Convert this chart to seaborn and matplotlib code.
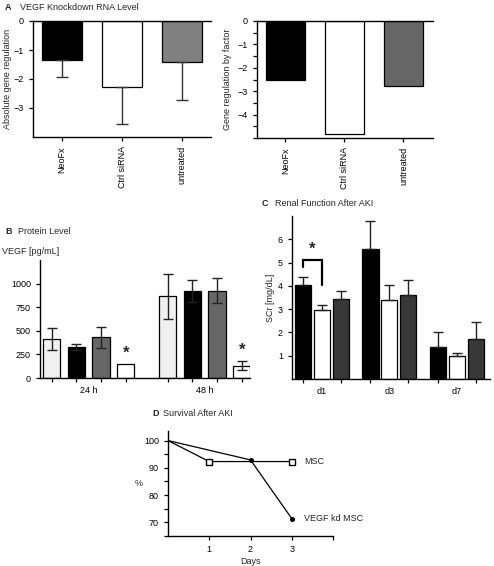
import numpy as np
import pandas as pd
import seaborn as sns
import matplotlib
matplotlib.use("Agg")
import matplotlib.pyplot as plt

# --- data ---
rna_groups = ['NeoFx', 'Ctrl siRNA', 'untreated']
rna_abs = [-1.35, -2.27, -1.42]
rna_abs_err = [0.57, 1.28, 1.31]
rna_factor = [-2.52, -4.82, -2.76]

protein_times = ['24 h', '48 h']
protein_series = ['MSC', 'NeoFx', 'Ctrl siRNA', 'VEGF kd MSC']
protein_24h = [415, 330, 430, 150]
protein_24h_err = [115, 30, 110, 0]
protein_48h = [865, 920, 925, 130]
protein_48h_err = [240, 115, 130, 50]

scr_days = ['d1', 'd3', 'd7']
scr_series = ['VEGF kd MSC', 'MSC', 'vehicle']
scr_vkd = [4.05, 5.60, 1.38]
scr_vkd_err = [0.35, 1.20, 0.64]
scr_msc = [2.97, 3.38, 1.00]
scr_msc_err = [0.21, 0.64, 0.10]
scr_veh = [3.45, 3.62, 1.72]
scr_veh_err = [0.32, 0.65, 0.73]

msc_days = [0, 1, 2, 3]
msc_surv = [100, 92.3, 92.3, 92.3]
vkd_days = [0, 2, 3]
vkd_surv = [100, 92.9, 71.4]

sns.set_theme(style="ticks")
plt.rcParams['font.family'] = ['Liberation Sans', 'DejaVu Sans']
plt.rcParams['axes.linewidth'] = 1.0
plt.rcParams['xtick.major.width'] = 0.9
plt.rcParams['ytick.major.width'] = 0.9
plt.rcParams['xtick.minor.width'] = 0.9
plt.rcParams['xtick.major.size'] = 3
plt.rcParams['ytick.major.size'] = 3
plt.rcParams['xtick.minor.size'] = 3
plt.rcParams['xtick.labelsize'] = 6.5
plt.rcParams['ytick.labelsize'] = 6.5
plt.rcParams['axes.edgecolor'] = 'black'
plt.rcParams['xtick.color'] = 'black'
plt.rcParams['ytick.color'] = 'black'

FS = 6.5
H = 566.0
W = 494.0


def box(x0, y0, x1, y1):
    return [x0 / W, 1 - y1 / H, (x1 - x0) / W, (y1 - y0) / H]


def centers(ax):
    return sorted(p.get_x() + p.get_width() / 2 for p in ax.patches)


fig = plt.figure(figsize=(4.94, 5.66), dpi=100)

# ---------- A left ----------
axA1 = fig.add_axes(box(33, 21, 211, 137))
dfA = pd.DataFrame({'group': rna_groups, 'val': rna_abs})
sns.barplot(data=dfA, x='group', y='val', hue='group', palette=['black', 'white', '#808080'],
            edgecolor='black', linewidth=0.9, width=0.67, errorbar=None, legend=False, ax=axA1)
xc = centers(axA1)
axA1.errorbar(xc, rna_abs, yerr=[rna_abs_err, [0, 0, 0]], fmt='none', ecolor='#333333',
              elinewidth=1.0, capsize=4, capthick=1.0)
axA1.set_ylim(-4, 0)
axA1.set_xlim(-0.48, 2.48)
axA1.set_yticks([0, -1, -2, -3])
axA1.set_xlabel('')
axA1.set_ylabel('Absolute gene regulation', fontsize=FS, labelpad=1)
axA1.tick_params(axis='x', rotation=90)
axA1.spines['right'].set_visible(False)

# ---------- A right ----------
axA2 = fig.add_axes(box(257, 21, 433, 138))
dfA2 = pd.DataFrame({'group': rna_groups, 'val': rna_factor})
sns.barplot(data=dfA2, x='group', y='val', hue='group', palette=['black', 'white', '#666666'],
            edgecolor='black', linewidth=0.9, width=0.66, errorbar=None, legend=False, ax=axA2)
axA2.set_ylim(-5, 0)
axA2.set_xlim(-0.48, 2.5)
yt = np.arange(0, -5.01, -0.5)
axA2.set_yticks(yt)
axA2.set_yticklabels([f'{int(v)}'.replace('-', '\u2212') if v == int(v) and v > -5 else ''
                      for v in yt])
axA2.set_xlabel('')
axA2.set_ylabel('Gene regulation by factor', fontsize=FS, labelpad=4)
axA2.tick_params(axis='x', rotation=90)
axA2.spines['right'].set_visible(False)

fig.text(5 / W, 1 - 8 / H, 'A', fontsize=FS, fontweight='bold', va='center')
fig.text(20 / W, 1 - 8 / H, 'VEGF Knockdown RNA Level', fontsize=FS, va='center')

# ---------- B ----------
axB = fig.add_axes(box(40, 260, 250, 378))
rows = []
for t, vals in zip(protein_times, [protein_24h, protein_48h]):
    for s, v in zip(protein_series, vals):
        rows.append({'time': t, 'series': s, 'val': v})
dfB = pd.DataFrame(rows)
sns.barplot(data=dfB, x='time', y='val', hue='series', hue_order=protein_series,
            palette=['#f0f0f0', 'black', '#666666', 'white'], edgecolor='black', linewidth=0.9,
            width=0.85, gap=0.3, errorbar=None, legend=False, ax=axB)
xb = centers(axB)
bvals = protein_24h + protein_48h
berr = protein_24h_err + protein_48h_err
for x, v, e in zip(xb, bvals, berr):
    if e > 0:
        axB.errorbar([x], [v], yerr=[e], fmt='none', ecolor='#222222', elinewidth=1.0,
                     capsize=3.5, capthick=1.0)
for i in (3, 7):
    axB.text(xb[i], bvals[i] + berr[i] + 30, '*', ha='center', va='bottom',
             fontsize=12, fontweight='bold')
axB.set_ylim(0, 1250)
axB.set_xlim(-0.42, 1.39)
axB.set_yticks([0, 250, 500, 750, 1000])
axB.set_xticks(xb, minor=True)
axB.tick_params(axis='x', which='major', length=0, pad=6)
axB.set_xlabel('')
axB.set_ylabel('')
sns.despine(ax=axB)
fig.text(5 / W, 1 - 232 / H, 'B', fontsize=FS, fontweight='bold', va='center')
fig.text(18 / W, 1 - 232 / H, 'Protein Level', fontsize=FS, va='center')
fig.text(2 / W, 1 - 251 / H, 'VEGF [pg/mL]', fontsize=FS, va='center')

# ---------- C ----------
axC = fig.add_axes(box(292, 216, 490, 379))
rows = []
for i, d in enumerate(scr_days):
    for s, vals in zip(scr_series, [scr_vkd, scr_msc, scr_veh]):
        rows.append({'day': d, 'series': s, 'val': vals[i]})
dfC = pd.DataFrame(rows)
sns.barplot(data=dfC, x='day', y='val', hue='series', hue_order=scr_series,
            palette=['black', 'white', '#383838'], edgecolor='black', linewidth=0.9,
            width=0.84, gap=0.14, errorbar=None, legend=False, ax=axC)
xcC = centers(axC)
cvals = [v for i in range(3) for v in (scr_vkd[i], scr_msc[i], scr_veh[i])]
cerr = [e for i in range(3) for e in (scr_vkd_err[i], scr_msc_err[i], scr_veh_err[i])]
axC.errorbar(xcC, cvals, yerr=[[0] * len(cerr), cerr], fmt='none', ecolor='#222222',
             elinewidth=1.0, capsize=3.5, capthick=1.0)
# significance bracket d1
axC.plot([xcC[0], xcC[0], xcC[1], xcC[1]], [4.8, 5.1, 5.1, 4.02], color='black', lw=1.6,
         solid_joinstyle='miter')
axC.text((xcC[0] + xcC[1]) / 2, 5.25, '*', ha='center', va='bottom', fontsize=12,
         fontweight='bold')
axC.set_ylim(0, 7)
axC.set_xlim(-0.44, 2.49)
axC.set_yticks([1, 2, 3, 4, 5, 6])
axC.set_xticks(xcC, minor=True)
axC.tick_params(axis='x', which='major', length=0, pad=6)
axC.set_xlabel('')
axC.set_ylabel('SCr [mg/dL]', fontsize=FS, labelpad=2)
sns.despine(ax=axC)
fig.text(262 / W, 1 - 204 / H, 'C', fontsize=FS, fontweight='bold', va='center')
fig.text(275 / W, 1 - 204 / H, 'Renal Function After AKI', fontsize=FS, va='center')

# ---------- D ----------
axD = fig.add_axes(box(168, 431, 333, 536))
sns.lineplot(x=msc_days, y=msc_surv, color='black', lw=0.9, marker='s', markersize=4.5,
             markerfacecolor='white', markeredgecolor='black', markeredgewidth=1.0,
             markevery=[1, 3], ax=axD)
sns.lineplot(x=vkd_days, y=vkd_surv, color='black', lw=0.9, marker='o', markersize=2.8,
             markerfacecolor='black', markeredgecolor='black', markevery=[1, 2], ax=axD)
axD.text(3.3, msc_surv[-1], 'MSC', fontsize=FS, va='center')
axD.text(3.3, vkd_surv[-1], 'VEGF kd MSC', fontsize=FS, va='center')
axD.set_xlim(0, 4)
axD.set_ylim(65, 103.5)
axD.set_xticks([1, 2, 3, 4])
axD.set_xticklabels(['1', '2', '3', ''])
axD.set_yticks([65, 70, 75, 80, 85, 90, 95, 100])
axD.set_yticklabels(['', '70', '', '80', '', '90', '', '100'])
axD.set_xlabel('Days', fontsize=FS, labelpad=2)
axD.set_ylabel('%', fontsize=FS, rotation=0, labelpad=4, va='center')
sns.despine(ax=axD)
fig.text(152 / W, 1 - 414 / H, 'D', fontsize=FS, fontweight='bold', va='center')
fig.text(163 / W, 1 - 414 / H, 'Survival After AKI', fontsize=FS, va='center')

fig.savefig('out.png', dpi=100)
